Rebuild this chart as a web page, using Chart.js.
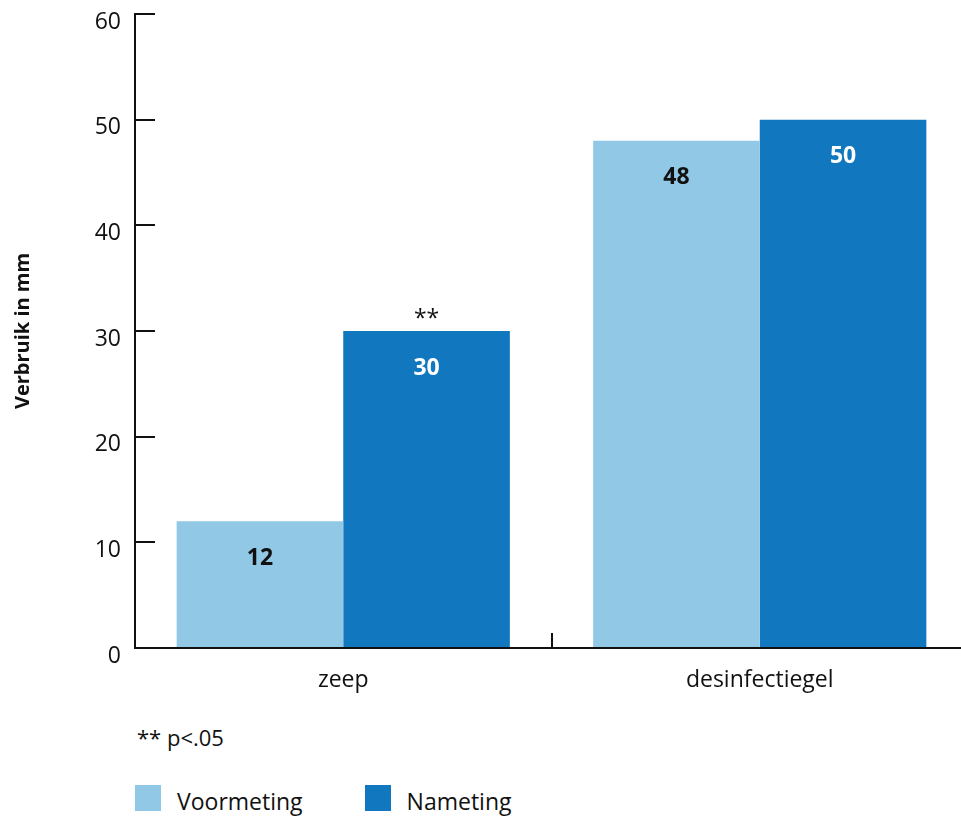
<!DOCTYPE html>
<html>
<head>
<meta charset="utf-8">
<script src="https://cdn.jsdelivr.net/npm/chart.js@4.4.1/dist/chart.umd.min.js"></script>
<style>
    html, body { margin: 0; padding: 0; background: #fff; width: 961px; height: 817px; overflow: hidden; }
    #wrap { position: absolute; left: 0; top: 0; width: 975px; height: 700px; }
    #note { position: absolute; left: 137px; top: 722px; font: 22px 'Open Sans'; color: #111; }
    #legend { position: absolute; left: 135px; top: 785px; display: flex; align-items: center; font: 23px 'Open Sans'; color: #111; }
    #legend .item { display: flex; align-items: center; margin-right: 62px; }
    #legend .box { width: 26px; height: 26px; margin-right: 16px; }
    #legend .txt { line-height: 26px; position: relative; top: 3px; }
</style>
</head>
<body>
<div id="wrap"><canvas id="verbruikChart"></canvas></div>
<div id="note">** p&lt;.05</div>
<div id="legend"></div>
<script>
// Data
const categories = ['zeep', 'desinfectiegel'];
const seriesNames = ['Voormeting', 'Nameting'];
const voormeting = [12, 48];
const nameting = [30, 50];
const voormetingSig = ['', ''];
const nametingSig = ['**', ''];
const yTicks = [0, 10, 20, 30, 40, 50, 60];

const colors = ['#91c8e6', '#1177be'];
const labelColors = ['#111111', '#ffffff'];
const axisColor = '#111111';

// labels in de balken + significantie-sterren erboven
const barLabels = {
    id: 'barLabels',
    afterDatasetsDraw(chart) {
        const ctx = chart.ctx;
        const sig = [voormetingSig, nametingSig];
        ctx.save();
        ctx.textAlign = 'center';
        ctx.textBaseline = 'middle';
        chart.data.datasets.forEach(function(ds, i) {
            chart.getDatasetMeta(i).data.forEach(function(bar, j) {
                ctx.font = 'bold 23px "Open Sans"';
                ctx.fillStyle = labelColors[i];
                ctx.fillText(ds.data[j], bar.x, bar.y + 37);
                if (sig[i][j]) {
                    ctx.font = '23px "Open Sans"';
                    ctx.fillStyle = '#111111';
                    ctx.fillText(sig[i][j], bar.x, bar.y - 12);
                }
            });
        });
        ctx.restore();
    }
};

const ctx = document.getElementById('verbruikChart').getContext('2d');
new Chart(ctx, {
    type: 'bar',
    data: {
        labels: categories,
        datasets: [{
            label: seriesNames[0],
            data: voormeting,
            backgroundColor: colors[0],
            categoryPercentage: 0.8,
            barPercentage: 1.0
        }, {
            label: seriesNames[1],
            data: nameting,
            backgroundColor: colors[1],
            categoryPercentage: 0.8,
            barPercentage: 1.0
        }]
    },
    options: {
        responsive: true,
        maintainAspectRatio: false,
        devicePixelRatio: 1,
        animation: false,
        layout: { padding: { top: 14, right: 7, left: 0, bottom: 0 } },
        plugins: {
            legend: { display: false },
            tooltip: { enabled: false }
        },
        scales: {
            x: {
                grid: { offset: true, drawOnChartArea: false, drawTicks: true, tickLength: -15, color: axisColor, lineWidth: 2 },
                border: { display: true, color: axisColor, width: 2 },
                ticks: { color: '#111', padding: 34, font: { family: 'Open Sans', size: 23 } },
                afterFit: function(s) {
                    s.height = 52;
                    s.paddingLeft = 0; s.paddingRight = 0;
                }
            },
            y: {
                min: 0,
                max: 60,
                afterBuildTicks: function(s) { s.ticks = yTicks.map(function(v) { return { value: v }; }); },
                grid: { drawOnChartArea: false, drawTicks: true, tickLength: -20, color: axisColor, lineWidth: 2 },
                border: { display: true, color: axisColor, width: 2 },
                ticks: { color: '#111', padding: 34, labelOffset: 8, font: { family: 'Open Sans', size: 23 } },
                title: {
                    display: true,
                    text: 'Verbruik in mm',
                    color: '#111',
                    padding: { top: 11, bottom: 0 },
                    font: { family: 'Open Sans', size: 20, weight: 'bold' }
                },
                afterFit: function(s) {
                    s.width = 135;
                    s.paddingTop = 0; s.paddingBottom = 0;
                }
            }
        }
    },
    plugins: [barLabels]
});

// legenda
const legend = document.getElementById('legend');
seriesNames.forEach(function(name, i) {
    const item = document.createElement('div');
    item.className = 'item';
    const box = document.createElement('div');
    box.className = 'box';
    box.style.background = colors[i];
    const txt = document.createElement('span');
    txt.className = 'txt';
    txt.textContent = name;
    item.appendChild(box);
    item.appendChild(txt);
    legend.appendChild(item);
});
</script>
</body>
</html>
